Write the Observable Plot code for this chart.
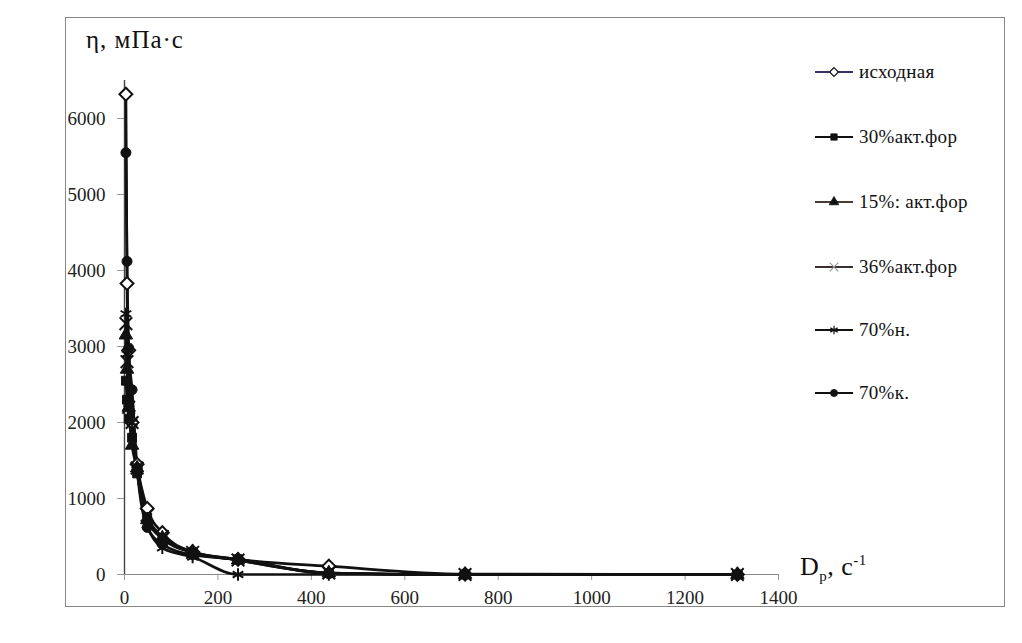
<!DOCTYPE html>
<html><head><meta charset="utf-8">
<script src="https://cdn.jsdelivr.net/npm/d3@7"></script>
<script src="https://cdn.jsdelivr.net/npm/@observablehq/plot@0.6"></script>
<style>
html,body{margin:0;padding:0;background:#fff;}
#wrap{position:relative;width:1022px;height:643px;font-family:"Liberation Serif","DejaVu Serif",serif;color:#111;}
#wrap svg.plot{position:absolute;left:0;top:0;}
#frame{position:absolute;left:65px;top:17px;width:940px;height:590px;border:1px solid #888;box-sizing:border-box;}
.lbl{position:absolute;white-space:nowrap;}
.leg{position:absolute;left:814px;display:flex;align-items:center;font-size:19px;letter-spacing:0.3px;white-space:nowrap;}
.leg svg{margin-right:5px;}
</style></head>
<body><div id="wrap"><div id="frame"></div></div>
<script>
// shear rate, 1/s
const shearRates = [3, 5.4, 9, 16.2, 27, 48.6, 81, 145.8, 243, 437.4, 729, 1312];
const seriesNames = ["исходная", "30%акт.фор", "15%: акт.фор", "36%акт.фор", "70%н.", "70%к."];
// viscosity, mPa·s
const vIsh   = [6320, 3830, 2950, 2000, 1450, 870, 550, 300, 200, 110, 5, 0];
const v30    = [2550, 2300, 2050, 1800, 1330, 750, 470, 290, 200, 20, 0, 0];
const v15    = [3150, 2700, 2200, 1700, 1400, 720, 480, 300, 190, 20, 0, 0];
const v36    = [3300, 2800, 2200, 2000, 1400, 780, 500, 290, 190, 20, 0, 0];
const v70n   = [3430, 2900, 2250, 2000, 1380, 650, 350, 230, 0, 0, 0, 0];
const v70k   = [5550, 4120, 2980, 2430, 1400, 620, 400, 260, 200, 10, 0, 0];
const xTicks = [0, 200, 400, 600, 800, 1000, 1200, 1400];
const yTicks = [0, 1000, 2000, 3000, 4000, 5000, 6000];

const seriesValues = [vIsh, v30, v15, v36, v70n, v70k];
const symbols = ["diamond2", "square", "triangle", "times", "asterisk", "circle"];
const d3symbols = [d3.symbolDiamond2, d3.symbolSquare, d3.symbolTriangle, d3.symbolTimes, d3.symbolAsterisk, d3.symbolCircle];
const filled = [false, true, true, false, false, true];
const legendLineColor = ["#3b2f6b", "#111", "#4a3a34", "#3a3030", "#111", "#111"];

const data = [];
seriesNames.forEach((s, i) => shearRates.forEach((x, j) => data.push({series: s, idx: i, x, y: seriesValues[i][j]})));

const dotMarks = seriesNames.map((s, i) => Plot.dot(data.filter(d => d.series === s), {
  x: "x", y: "y", symbol: () => symbols[i], r: filled[i] ? 5 : 5.8,
  fill: filled[i] ? "#111" : (symbols[i] === "diamond2" ? "#fff" : "none"),
  stroke: "#111", strokeWidth: filled[i] ? 1 : 2
}));

const chart = Plot.plot({
  width: 1022, height: 643,
  marginLeft: 124, marginRight: 244, marginTop: 80, marginBottom: 69,
  style: {fontFamily: "Liberation Serif, serif", fontSize: "19px", background: "transparent", color: "#222"},
  x: {domain: [0, 1400]},
  y: {domain: [0, 6500]},
  symbol: {type: "identity"},
  marks: [
    Plot.axisX({ticks: xTicks, tickSize: 6, tickPadding: 10, stroke: "#999", fill: "#222", label: null, tickFormat: d => String(d)}),
    Plot.axisY({ticks: yTicks, tickSize: 7, tickPadding: 12, stroke: "#999", fill: "#222", label: null, tickFormat: d => String(d)}),
    Plot.ruleY([0], {stroke: "#888", strokeWidth: 1}),
    Plot.ruleX([0], {stroke: "#444", strokeWidth: 1.4}),
    Plot.line(data, {x: "x", y: "y", z: "series", curve: "monotone-x", stroke: "#111", strokeWidth: 2.7}),
    ...dotMarks
  ]
});
chart.classList.add("plot");
const wrap = document.getElementById("wrap");
wrap.appendChild(chart);

// axis titles
const yl = document.createElement("div");
yl.className = "lbl"; yl.style.cssText = "left:86px;top:26px;font-size:25px;letter-spacing:1px;";
yl.textContent = "η, мПа·с";
wrap.appendChild(yl);
const xl = document.createElement("div");
xl.className = "lbl"; xl.style.cssText = "left:800px;top:552px;font-size:26px;letter-spacing:0.5px;";
xl.innerHTML = "D<sub style='font-size:15px'>р</sub>, с<sup style='font-size:15px'>-1</sup>";
wrap.appendChild(xl);

// legend
const legY = [72, 137, 202, 267, 330, 393];
seriesNames.forEach((s, i) => {
  const row = document.createElement("div");
  row.className = "leg";
  row.style.top = (legY[i] - 12) + "px";
  row.style.height = "24px";
  const svg = d3.create("svg").attr("width", 40).attr("height", 14);
  svg.append("line").attr("x1", 1).attr("x2", 39).attr("y1", 7).attr("y2", 7).attr("stroke", legendLineColor[i]).attr("stroke-width", 1.8);
  svg.append("path").attr("transform", "translate(20,7)")
    .attr("d", d3.symbol(d3symbols[i], filled[i] ? 40 : 50)())
    .attr("fill", filled[i] ? "#111" : (i === 0 ? "#fff" : "none"))
    .attr("stroke", i === 3 ? "#999" : "#111").attr("stroke-width", filled[i] ? 0.8 : 1.2);
  row.appendChild(svg.node());
  const t = document.createElement("span");
  t.textContent = s;
  row.appendChild(t);
  wrap.appendChild(row);
});
</script></body></html>
